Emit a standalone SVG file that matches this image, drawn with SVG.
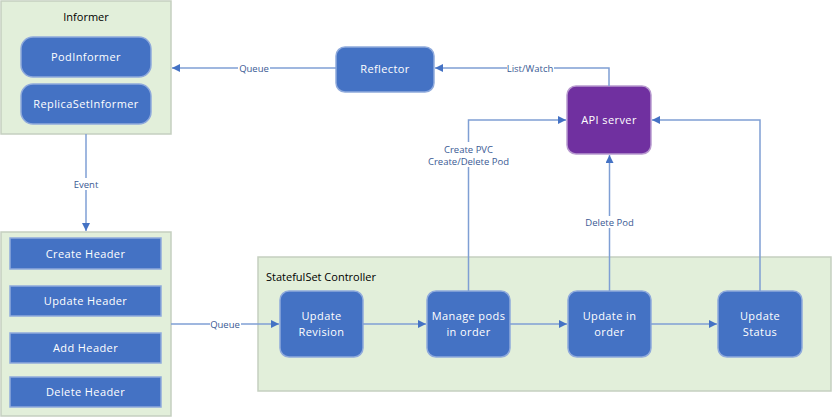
<svg xmlns="http://www.w3.org/2000/svg" width="832" height="417" viewBox="0 0 832 417">
<style>
.grp{fill:#E2EFDA;stroke:#C5CFC0;stroke-width:1.5}
.box{fill:#4472C4;stroke:#8FAADC;stroke-width:1.5}
.api{fill:#7030A0;stroke:#B89ACF;stroke-width:1.5}
.bt{font-family:"Open Sans","Noto Sans",sans-serif;font-size:11px;fill:#FFFFFF;text-anchor:middle;letter-spacing:0.4px}
.gt{font-family:"Open Sans","Noto Sans",sans-serif;font-size:11px;fill:#000000}
.ln{fill:none;stroke:#7F9FD4;stroke-width:1.5}
.lb{font-family:"Open Sans","Noto Sans",sans-serif;font-size:9.5px;fill:#3A5A94;text-anchor:middle}
.bg{fill:#FFFFFF}
</style>
<defs>
<marker id="ah" viewBox="0 0 10 10" refX="10" refY="5" markerWidth="8" markerHeight="8" markerUnits="userSpaceOnUse" orient="auto">
<path d="M0,0 L10,5 L0,10 z" fill="#4472C4"/>
</marker>
</defs>

<g id="informer">
<rect class="grp" x="1" y="1" width="170" height="133"/>
<text class="gt" x="86" y="21" text-anchor="middle">Informer</text>
</g>
<g id="podinformer">
<rect class="box" x="21" y="37" width="130" height="40" rx="12"/>
<text class="bt" x="86" y="61">PodInformer</text>
</g>
<g id="replicasetinformer">
<rect class="box" x="21" y="84" width="130" height="40" rx="12"/>
<text class="bt" x="86" y="108">ReplicaSetInformer</text>
</g>

<g id="reflector">
<rect class="box" x="336" y="47" width="98" height="45" rx="9"/>
<text class="bt" x="385" y="73">Reflector</text>
</g>

<g id="apiserver">
<rect class="api" x="567" y="86" width="84" height="68" rx="9"/>
<text class="bt" x="609" y="124">API server</text>
</g>

<g id="headers">
<rect class="grp" x="1" y="232" width="170" height="184"/>
</g>
<g id="createheader">
<rect class="box" x="10" y="238" width="151" height="31"/>
<text class="bt" x="85.5" y="258">Create Header</text>
</g>
<g id="updateheader">
<rect class="box" x="10" y="286" width="151" height="30"/>
<text class="bt" x="85.5" y="305">Update Header</text>
</g>
<g id="addheader">
<rect class="box" x="10" y="333" width="151" height="30"/>
<text class="bt" x="85.5" y="352">Add Header</text>
</g>
<g id="deleteheader">
<rect class="box" x="10" y="377" width="151" height="30"/>
<text class="bt" x="85.5" y="396">Delete Header</text>
</g>

<g id="statefulset">
<rect class="grp" x="258" y="257" width="573" height="134"/>
<text class="gt" x="266" y="281">StatefulSet Controller</text>
</g>
<g id="updaterevision">
<rect class="box" x="280" y="291" width="83" height="66" rx="9"/>
<text class="bt" x="321.5" y="320">Update</text>
<text class="bt" x="321.5" y="336">Revision</text>
</g>
<g id="managepods">
<rect class="box" x="427" y="291" width="83" height="66" rx="9"/>
<text class="bt" x="468.5" y="320">Manage pods</text>
<text class="bt" x="468.5" y="336">in order</text>
</g>
<g id="updateinorder">
<rect class="box" x="568" y="291" width="83" height="66" rx="9"/>
<text class="bt" x="609.5" y="320">Update in</text>
<text class="bt" x="609.5" y="336">order</text>
</g>
<g id="updatestatus">
<rect class="box" x="718" y="291" width="84" height="66" rx="9"/>
<text class="bt" x="760" y="320">Update</text>
<text class="bt" x="760" y="336">Status</text>
</g>

<g id="connectors">
<path class="ln" d="M336,68 H172" marker-end="url(#ah)"/>
<rect class="bg" x="238" y="62" width="32" height="12"/>
<text class="lb" x="254" y="71.5">Queue</text>

<path class="ln" d="M609,86 V68 H435" marker-end="url(#ah)"/>
<rect class="bg" x="507" y="62" width="47" height="12"/>
<text class="lb" x="530" y="71.5">List/Watch</text>

<path class="ln" d="M86,134 V231" marker-end="url(#ah)"/>
<rect class="bg" x="72" y="178" width="29" height="12"/>
<text class="lb" x="86" y="187.5">Event</text>

<path class="ln" d="M468.5,291 V120 H566" marker-end="url(#ah)"/>
<rect class="bg" x="425" y="142" width="87" height="25"/>
<text class="lb" x="468.5" y="152.5">Create PVC</text>
<text class="lb" x="468.5" y="164.5">Create/Delete Pod</text>

<path class="ln" d="M609.5,291 V155" marker-end="url(#ah)"/>
<rect class="bg" x="583" y="216" width="53" height="12"/>
<text class="lb" x="609.5" y="225.5">Delete Pod</text>

<path class="ln" d="M760,291 V120 H652" marker-end="url(#ah)"/>

<path class="ln" d="M171,324 H279" marker-end="url(#ah)"/>
<rect class="bg" x="210" y="318" width="31" height="12"/>
<text class="lb" x="225" y="327.5">Queue</text>

<path class="ln" d="M363,324 H426" marker-end="url(#ah)"/>
<path class="ln" d="M510,324 H567" marker-end="url(#ah)"/>
<path class="ln" d="M651,324 H717" marker-end="url(#ah)"/>
</g>
</svg>
